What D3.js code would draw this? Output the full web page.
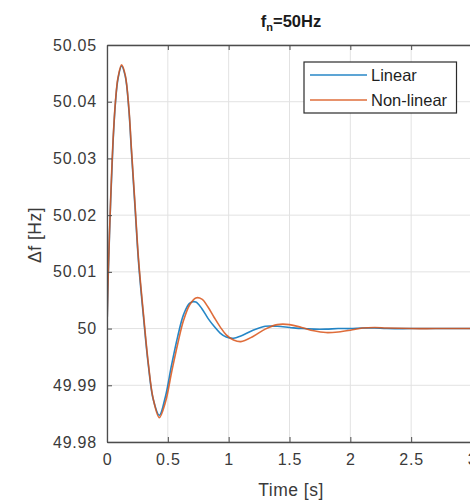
<!DOCTYPE html>
<html>
<head>
<meta charset="utf-8">
<script src="https://cdn.jsdelivr.net/npm/d3@7"></script>
<style>
  html, body { margin: 0; padding: 0; background: #fff; }
  svg { display: block; font-family: "Liberation Sans", Arial, sans-serif; }
</style>
</head>
<body>
<svg id="chart" width="470" height="502"></svg>
<script>
// ---- data ----
const time = [0, 0.01, 0.03, 0.05, 0.07, 0.09, 0.12, 0.15, 0.18, 0.20, 0.23, 0.26, 0.30, 0.34, 0.38, 0.43,
  0.48, 0.53, 0.58, 0.63, 0.68, 0.73, 0.78, 0.83, 0.88, 0.93, 0.98, 1.04, 1.10, 1.20, 1.30, 1.40, 1.50,
  1.60, 1.70, 1.80, 1.90, 2.00, 2.10, 2.20, 2.30, 2.50, 2.70, 3.00];
const linear = [50.0000, 50.0092, 50.0225, 50.0330, 50.0400, 50.0440, 50.0463, 50.0445, 50.0385, 50.0315,
  50.0215, 50.0115, 50.0020, 49.9935, 49.9875, 49.9847, 49.9880, 49.9935, 49.9985, 50.0025, 50.0045,
  50.0047, 50.0035, 50.0018, 50.0004, 49.9992, 49.9985, 49.9983, 49.9987, 49.9997, 50.0004, 50.0004,
  50.0002, 50.0000, 49.9999, 49.9999, 50.0000, 50.0000, 50.0001, 50.0001, 50.0000, 50.0000, 50.0000, 50.0000];
const nonLinear = [50.0000, 50.0095, 50.0228, 50.0333, 50.0402, 50.0442, 50.0465, 50.0447, 50.0388, 50.0320,
  50.0220, 50.0120, 50.0025, 49.9938, 49.9876, 49.9843, 49.9870, 49.9922, 49.9972, 50.0015, 50.0042,
  50.0054, 50.0052, 50.0038, 50.0020, 50.0003, 49.9989, 49.9980, 49.9977, 49.9986, 49.9999, 50.0007,
  50.0007, 50.0002, 49.9996, 49.9993, 49.9994, 49.9997, 50.0001, 50.0002, 50.0001, 50.0000, 50.0000, 50.0000];
const xTicks = [0, 0.5, 1, 1.5, 2, 2.5, 3];
const yTicks = [49.98, 49.99, 50, 50.01, 50.02, 50.03, 50.04, 50.05];
const seriesNames = ["Linear", "Non-linear"];
const seriesColors = ["#0072BD", "#D95319"];

// ---- layout ----
const svg = d3.select("#chart");
const m = { left: 107, top: 45, right: 472, bottom: 442 };
const x = d3.scaleLinear().domain([0, 3]).range([m.left, m.right]);
const y = d3.scaleLinear().domain([49.98, 50.05]).range([m.bottom, m.top]);
const axisColor = "#4d4d4d";
const textColor = "#3a3a3a";

// grid
const grid = svg.append("g");
grid.selectAll(".gx").data(xTicks).join("line")
  .attr("x1", d => x(d)).attr("x2", d => x(d)).attr("y1", m.top).attr("y2", m.bottom)
  .attr("stroke", "#e2e2e2").attr("stroke-width", 1);
grid.selectAll(".gy").data(yTicks).join("line")
  .attr("x1", m.left).attr("x2", m.right).attr("y1", d => y(d)).attr("y2", d => y(d))
  .attr("stroke", "#e2e2e2").attr("stroke-width", 1);

// lines
svg.append("clipPath").attr("id", "clip").append("rect")
  .attr("x", m.left).attr("y", m.top).attr("width", m.right - m.left).attr("height", m.bottom - m.top);
const line = d3.line().curve(d3.curveCatmullRom.alpha(0.5));
const series = [linear, nonLinear];
series.forEach((vals, i) => {
  svg.append("path")
    .attr("clip-path", "url(#clip)")
    .attr("d", line(time.map((t, j) => [x(t), y(vals[j])])))
    .attr("fill", "none").attr("stroke", seriesColors[i]).attr("stroke-width", 1.6)
    .attr("stroke-opacity", 0.85);
});

// axes (inward ticks, box)
const fmt = d => String(d);
const axB = svg.append("g").attr("transform", `translate(0,${m.bottom})`)
  .call(d3.axisBottom(x).tickValues(xTicks).tickFormat(fmt).tickSizeInner(-5).tickSizeOuter(0).tickPadding(12));
const axL = svg.append("g").attr("transform", `translate(${m.left},0)`)
  .call(d3.axisLeft(y).tickValues(yTicks).tickFormat(fmt).tickSizeInner(-5).tickSizeOuter(0).tickPadding(8));
const axT = svg.append("g").attr("transform", `translate(0,${m.top})`)
  .call(d3.axisTop(x).tickValues(xTicks).tickFormat("").tickSizeInner(-5).tickSizeOuter(0));
[axB, axL, axT].forEach(a => {
  a.select(".domain").attr("stroke", axisColor).attr("stroke-width", 1.3);
  a.selectAll(".tick line").attr("stroke", axisColor);
  a.selectAll(".tick text").attr("fill", textColor).attr("font-size", 16).attr("letter-spacing", "0.8px")
    .attr("font-family", "'Liberation Sans', Arial, sans-serif");
});
axL.selectAll(".tick text").attr("dx", "-2");

// title
const title = svg.append("text").attr("x", 291).attr("y", 27).attr("text-anchor", "middle")
  .attr("font-size", 16.5).attr("font-weight", "bold").attr("fill", "#1a1a1a");
title.append("tspan").text("f");
title.append("tspan").attr("font-size", 11).attr("dy", 4).text("n");
title.append("tspan").attr("dy", -4).text("=50Hz");

// axis labels
svg.append("text").attr("x", 291).attr("y", 496).attr("text-anchor", "middle")
  .attr("font-size", 17.5).attr("fill", textColor).attr("letter-spacing", "0.5px").text("Time [s]");
svg.append("text").attr("transform", "translate(41,235) rotate(-90)").attr("text-anchor", "middle")
  .attr("font-size", 17.5).attr("fill", textColor).attr("letter-spacing", "0.5px").text("Δf [Hz]");

// legend
const lg = svg.append("g");
lg.append("rect").attr("x", 304).attr("y", 62).attr("width", 152.5).attr("height", 51)
  .attr("fill", "#fff").attr("stroke", "#2b2b2b").attr("stroke-width", 1.2);
seriesNames.forEach((name, i) => {
  const yy = 75 + i * 25;
  lg.append("line").attr("x1", 310).attr("x2", 367).attr("y1", yy).attr("y2", yy)
    .attr("stroke", seriesColors[i]).attr("stroke-width", 1.6).attr("stroke-opacity", 0.85);
  lg.append("text").attr("x", 371).attr("y", yy + 6).attr("font-size", 16.5)
    .attr("fill", "#1f1f1f").text(name);
});
</script>
</body>
</html>
